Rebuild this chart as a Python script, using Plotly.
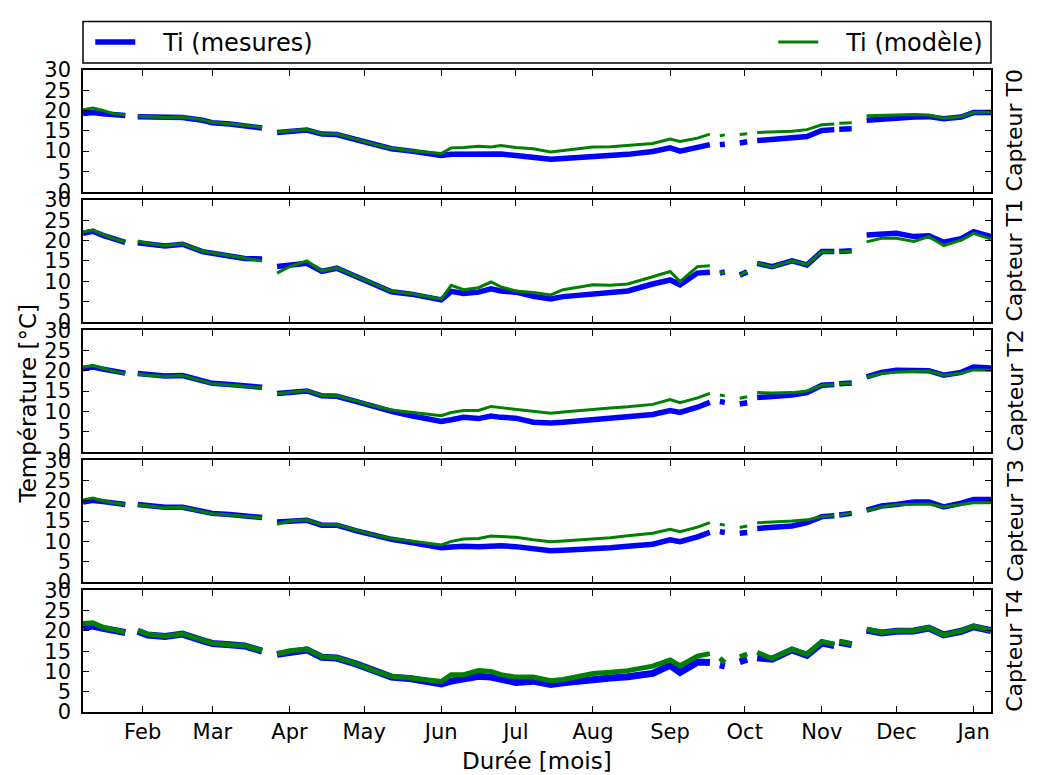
import plotly.graph_objects as go
from plotly.subplots import make_subplots

N = None

DATES = [
    "2013-01-08", "2013-01-12", "2013-01-16", "2013-01-20", "2013-01-25", "2013-01-27",
    "2013-01-30", "2013-02-03", "2013-02-10", "2013-02-17", "2013-02-25", "2013-03-01",
    "2013-03-08", "2013-03-14", "2013-03-21", "2013-03-24",
    "2013-03-27", "2013-04-01", "2013-04-08", "2013-04-14", "2013-04-20", "2013-04-28",
    "2013-05-05", "2013-05-12", "2013-05-20", "2013-06-01", "2013-06-05", "2013-06-10",
    "2013-06-16", "2013-06-21", "2013-06-25", "2013-07-01", "2013-07-08", "2013-07-15",
    "2013-07-20", "2013-08-01", "2013-08-08", "2013-08-15", "2013-08-25", "2013-09-01",
    "2013-09-05", "2013-09-12", "2013-09-17", "2013-09-19",
    "2013-09-21", "2013-09-23", "2013-09-26",
    "2013-09-29", "2013-10-02", "2013-10-04",
    "2013-10-06", "2013-10-12", "2013-10-20", "2013-10-26", "2013-11-01", "2013-11-06", "2013-11-07",
    "2013-11-08", "2013-11-13", "2013-11-16",
    "2013-11-19", "2013-11-25", "2013-12-01", "2013-12-08", "2013-12-14", "2013-12-20",
    "2013-12-27", "2014-01-01", "2014-01-08",
]

# Capteur T0
T0_MES = [19.3, 19.5, 19.2, 18.9, 18.8, N,
          18.5, 18.4, 18.2, 18.3, 17.6, 17.0, 16.7, 16.3, 15.7, N,
          14.6, 14.9, 15.2, 14.2, 14.1, 12.8, 11.6, 10.6, 10.0, 8.9, 9.2, 9.3, 9.3, 9.2,
          9.3, 8.9, 8.6, 8.0, 8.2, 8.6, 8.9, 9.2, 9.9, 10.8, 10.0, 10.9, 11.6, N,
          11.6, 11.7, N, 12.0, 12.3, N,
          12.6, 12.9, 13.2, 13.6, 15.1, 15.3, N, 15.4, 15.5, N,
          17.6, 18.0, 18.1, 18.4, 18.5, 18.0, 18.4, 19.5, 19.5]
T0_MOD = [20.2, 20.6, 20.0, 19.3, 18.9, N,
          18.6, 18.5, 18.3, 18.4, 17.7, 17.1, 16.8, 16.4, 15.8, N,
          14.7, 15.0, 15.4, 14.3, 14.2, 12.9, 11.7, 10.7, 10.1, 9.4, 10.8, 10.9, 11.2, 11.0,
          11.4, 10.9, 10.6, 9.8, 10.2, 11.0, 11.1, 11.4, 11.9, 13.0, 12.4, 13.2, 14.2, N,
          13.8, 14.0, N, 14.1, 14.3, N,
          14.6, 14.7, 14.9, 15.3, 16.5, 16.7, N, 16.9, 17.0, N,
          18.7, 18.8, 18.9, 19.0, 18.9, 18.1, 18.5, 19.5, 19.6]

# Capteur T1
T1_MES = [21.8, 22.3, 21.3, 20.5, 19.6, N,
          19.5, 19.2, 18.7, 19.1, 17.3, 16.9, 16.1, 15.6, 15.5, N,
          13.6, 14.0, 14.4, 12.4, 13.2, 11.1, 9.4, 7.4, 6.8, 5.4, 7.5, 7.0, 7.3, 8.1,
          7.6, 7.3, 6.3, 5.6, 6.2, 7.0, 7.3, 7.6, 9.3, 10.3, 9.1, 12.0, 12.2, N,
          12.0, 12.3, N, 11.5, 12.3, N,
          14.4, 13.6, 15.0, 14.0, 17.3, 17.3, N, 17.3, 17.5, N,
          21.4, 21.6, 21.8, 21.0, 21.2, 19.6, 20.5, 22.2, 21.0]
T1_MOD = [22.2, 22.6, 21.5, 20.6, 19.7, N,
          19.9, 19.3, 18.8, 19.2, 17.4, 17.0, 16.2, 15.6, 15.0, N,
          12.0, 13.6, 15.0, 12.5, 13.3, 11.2, 9.5, 7.5, 6.9, 5.6, 9.0, 7.9, 8.4, 9.8,
          8.6, 7.6, 7.2, 6.6, 7.9, 9.1, 9.0, 9.3, 11.1, 12.4, 9.9, 13.6, 13.8, N,
          12.2, 12.0, N, 11.5, 12.4, N,
          14.5, 13.5, 15.0, 14.1, 17.3, 17.2, N, 17.2, 17.4, N,
          19.7, 20.6, 20.6, 19.8, 21.0, 18.8, 20.1, 21.8, 20.4]

# Capteur T2
T2_MES = [20.5, 20.9, 20.4, 19.9, 19.4, N,
          19.3, 19.0, 18.7, 18.8, 17.6, 16.9, 16.6, 16.2, 15.9, N,
          14.4, 14.7, 15.0, 13.8, 13.7, 12.4, 11.1, 10.0, 8.9, 7.5, 7.9, 8.5, 8.2, 8.8,
          8.5, 8.3, 7.3, 7.1, 7.3, 7.9, 8.2, 8.5, 9.2, 10.2, 9.7, 11.0, 12.2, N,
          12.4, 12.2, N, 11.8, 12.1, N,
          13.4, 13.6, 14.0, 14.6, 16.4, 16.6, N, 16.8, 17.0, N,
          18.5, 19.6, 20.1, 19.9, 20.0, 18.9, 19.6, 20.9, 20.7]
T2_MOD = [20.9, 21.3, 20.6, 19.9, 19.3, N,
          19.2, 18.9, 18.6, 18.8, 17.5, 16.8, 16.5, 16.1, 15.8, N,
          14.3, 14.6, 15.1, 13.9, 13.8, 12.5, 11.3, 10.3, 9.7, 8.9, 9.7, 10.2, 10.2, 11.2,
          10.9, 10.5, 9.9, 9.5, 9.8, 10.5, 10.8, 11.1, 11.7, 12.9, 12.1, 13.3, 14.4, N,
          14.0, 13.8, N, 13.2, 13.6, N,
          14.6, 14.5, 14.6, 15.0, 16.4, 16.6, N, 16.8, 17.0, N,
          18.4, 19.3, 19.7, 19.8, 19.9, 18.9, 19.4, 20.2, 20.1]

# Capteur T3
T3_MES = [19.7, 20.1, 19.8, 19.4, 19.1, N,
          19.1, 18.8, 18.4, 18.4, 17.5, 16.9, 16.6, 16.3, 15.9, N,
          14.8, 15.0, 15.2, 14.0, 14.0, 12.6, 11.5, 10.5, 9.7, 8.4, 8.6, 8.8, 8.7, 8.9,
          8.9, 8.7, 8.3, 7.7, 7.8, 8.1, 8.4, 8.8, 9.3, 10.4, 9.9, 11.1, 12.2, N,
          12.4, 12.2, N, 12.0, 12.2, N,
          13.2, 13.5, 13.8, 14.6, 16.1, 16.3, N, 16.5, 16.9, N,
          17.7, 18.7, 19.1, 19.7, 19.7, 18.5, 19.4, 20.3, 20.3]
T3_MOD = [20.2, 20.7, 20.0, 19.5, 19.1, N,
          19.0, 18.7, 18.3, 18.4, 17.4, 16.8, 16.5, 16.2, 15.8, N,
          14.2, 15.0, 15.3, 14.1, 14.1, 12.7, 11.6, 10.7, 10.0, 9.1, 10.0, 10.6, 10.7, 11.3,
          11.2, 11.0, 10.4, 9.9, 10.1, 10.6, 10.9, 11.4, 12.0, 13.0, 12.4, 13.5, 14.6, N,
          14.2, 14.0, N, 13.4, 13.8, N,
          14.6, 14.7, 15.0, 15.3, 16.1, 16.3, N, 16.5, 16.9, N,
          17.6, 18.5, 19.0, 19.2, 19.2, 18.5, 19.0, 19.5, 19.5]

# Capteur T4
T4_MES = [20.8, 21.2, 20.6, 20.2, 19.6, N,
          19.9, 19.0, 18.6, 19.2, 17.6, 16.9, 16.6, 16.3, 15.0, N,
          14.2, 14.8, 15.3, 13.5, 13.3, 11.8, 10.0, 8.6, 8.2, 6.9, 7.6, 8.2, 8.8, 8.6,
          8.0, 7.3, 7.6, 6.8, 7.2, 8.2, 8.4, 8.7, 9.5, 11.5, 9.8, 12.3, 12.2, N,
          11.6, 11.3, N, 12.4, 13.0, N,
          13.4, 13.0, 15.3, 14.0, 17.0, 16.4, N, 17.2, 16.6, N,
          20.2, 19.5, 19.9, 20.0, 20.7, 19.0, 19.9, 21.0, 20.1]
T4_MOD = [21.8, 22.0, 20.9, 20.4, 19.7, N,
          20.1, 19.2, 18.7, 19.3, 17.7, 17.0, 16.6, 16.4, 15.1, N,
          14.3, 15.1, 15.5, 13.6, 13.4, 11.9, 10.2, 8.8, 8.4, 7.5, 9.2, 9.2, 10.2, 10.0,
          9.2, 8.6, 8.6, 7.7, 8.0, 9.5, 9.8, 10.2, 11.3, 12.8, 11.4, 13.8, 14.4, N,
          13.3, 12.2, N, 13.6, 14.3, N,
          14.7, 13.2, 15.5, 14.2, 17.4, 16.7, N, 17.4, 16.8, N,
          20.4, 19.6, 20.0, 20.1, 20.8, 19.0, 20.0, 21.2, 20.1]

SENSORS = ["Capteur T0", "Capteur T1", "Capteur T2", "Capteur T3", "Capteur T4"]
MESURES = [T0_MES, T1_MES, T2_MES, T3_MES, T4_MES]
MODELE = [T0_MOD, T1_MOD, T2_MOD, T3_MOD, T4_MOD]
SERIES_NAMES = ["Ti (mesures)", "Ti (modèle)"]

MONTH_TICKS = ["2013-02-01", "2013-03-01", "2013-04-01", "2013-05-01", "2013-06-01",
               "2013-07-01", "2013-08-01", "2013-09-01", "2013-10-01", "2013-11-01",
               "2013-12-01", "2014-01-01"]
MONTH_LABELS = ["Feb", "Mar", "Apr", "May", "Jun", "Jul", "Aug", "Sep", "Oct", "Nov",
                "Dec", "Jan"]
Y_TICKS = [0, 5, 10, 15, 20, 25, 30]

FONT = "DejaVu Sans"
BLUE = "#0000ff"
GREEN = "#008000"
PAD = "\u00a0\u00a0\u00a0"  # gap between legend line and its label

fig = make_subplots(rows=5, cols=1, shared_xaxes=True, vertical_spacing=0.0131)

for i in range(5):
    noisy = i == 4
    fig.add_trace(go.Scatter(
        x=DATES, y=MESURES[i], mode="lines", name=PAD + SERIES_NAMES[0],
        line=dict(color=BLUE, width=7 if noisy else 5.5),
        showlegend=(i == 0), legend="legend", connectgaps=False,
    ), row=i + 1, col=1)
    fig.add_trace(go.Scatter(
        x=DATES, y=MODELE[i], mode="lines", name=PAD + SERIES_NAMES[1],
        line=dict(color=GREEN, width=5 if noisy else 3),
        showlegend=(i == 0), legend="legend2", connectgaps=False,
    ), row=i + 1, col=1)

axis_common = dict(
    showline=True, linecolor="black", linewidth=1.5, mirror="ticks",
    ticks="inside", ticklen=6, tickwidth=1, tickcolor="black",
    showgrid=False, zeroline=False,
    tickfont=dict(family=FONT, size=21, color="black"),
)

fig.update_xaxes(
    range=["2013-01-08", "2014-01-08"], tickmode="array",
    tickvals=MONTH_TICKS, ticktext=MONTH_LABELS, **axis_common,
)
fig.update_yaxes(
    range=[0, 30], tickmode="array", tickvals=Y_TICKS,
    ticktext=[str(v) for v in Y_TICKS], ticklabelstandoff=6, **axis_common,
)

annotations = []
for i, name in enumerate(SENSORS):
    yaxis = fig.layout["yaxis" if i == 0 else f"yaxis{i + 1}"]
    d0, d1 = yaxis.domain
    annotations.append(dict(
        text=name, xref="paper", yref="paper", x=1.026, y=(d0 + d1) / 2,
        showarrow=False, textangle=-90, xanchor="center", yanchor="middle",
        font=dict(family=FONT, size=22, color="black"),
    ))
annotations.append(dict(
    text="Température [°C]", xref="paper", yref="paper", x=-0.061, y=0.48,
    showarrow=False, textangle=-90, xanchor="center", yanchor="middle",
    font=dict(family=FONT, size=23, color="black"),
))
annotations.append(dict(
    text="Durée [mois]", xref="paper", yref="paper", x=0.5, y=-0.077,
    showarrow=False, xanchor="center", yanchor="middle",
    font=dict(family=FONT, size=23, color="black"),
))

legend_font = dict(family=FONT, size=24, color="black")
# The page body has an 8 px margin, so the figure is shrunk and margins shifted by 8 px.
fig.update_layout(
    width=1030, height=767,
    margin=dict(l=75, r=47, t=55, b=63),
    plot_bgcolor="white", paper_bgcolor="white",
    font=dict(family=FONT, color="black"),
    annotations=annotations,
    shapes=[dict(type="rect", xref="paper", yref="paper", x0=0, x1=1,
                 y0=1.0108, y1=1.0755, line=dict(color="black", width=1.5),
                 fillcolor="rgba(0,0,0,0)")],
    legend=dict(x=0.008, y=1.043, xanchor="left", yanchor="middle",
                bgcolor="rgba(0,0,0,0)", font=legend_font, itemwidth=40),
    legend2=dict(x=0.997, y=1.043, xanchor="right", yanchor="middle",
                 bgcolor="rgba(0,0,0,0)", font=legend_font, itemwidth=40),
)

fig.write_html("out.html")
